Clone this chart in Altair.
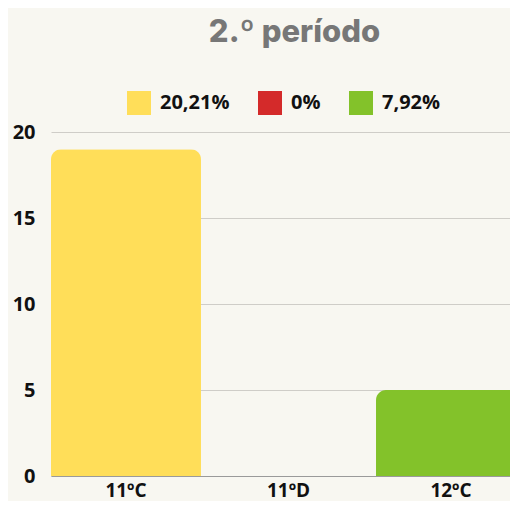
import altair as alt
import pandas as pd

categories = ["11ºC", "11ºD", "12ºC"]
values = [19, 0, 5]
legend_labels = ["20,21%", "0%", "7,92%"]
colors = ["#FFDE59", "#D42A2A", "#83C22A"]

df = pd.DataFrame({"turma": categories, "valor": values, "legenda": legend_labels})

chart = alt.Chart(df).mark_bar(
    cornerRadiusTopLeft=10, cornerRadiusTopRight=10
).encode(
    x=alt.X("turma:N", sort=categories, title=None,
            scale=alt.Scale(paddingInner=0.077, paddingOuter=0, range=[0, 475]),
            axis=alt.Axis(labelAngle=0, labelFont="Open Sans", labelFontWeight="bold",
                          labelFontSize=19, labelColor="#111111", labelPadding=5,
                          ticks=False, domainColor="#9a9a9a", domainWidth=1.2, grid=False)),
    y=alt.Y("valor:Q", title=None,
            scale=alt.Scale(domain=[0, 20]),
            axis=alt.Axis(values=[0, 5, 10, 15, 20], labelFont="Open Sans", labelFontWeight="bold",
                          labelFontSize=20, labelColor="#111111", labelPadding=16,
                          ticks=False, domain=False, gridColor="#cfcdc8", gridWidth=1.2)),
    color=alt.Color("legenda:N", sort=legend_labels,
                    scale=alt.Scale(domain=legend_labels, range=colors),
                    legend=alt.Legend(title=None, orient="none", legendX=76, legendY=-41,
                                      direction="horizontal", symbolType="square",
                                      symbolSize=576, symbolStrokeWidth=0, symbolOpacity=1,
                                      labelFont="Open Sans", labelFontWeight="bold",
                                      labelFontSize=20, labelColor="#111111",
                                      labelOffset=9, columnPadding=28, padding=0)),
).properties(
    width=459, height=344,
    background="#F8F7F1",
    autosize=alt.AutoSizeParams(type="none"),
    padding={"left": 43, "top": 124, "right": 0, "bottom": 25},
    title=alt.TitleParams("2.º período", font="Inter", fontWeight=800, fontSize=31,
                          color="#777777", anchor="middle", frame="group",
                          baseline="alphabetic", offset=18, dx=14),
).configure_view(stroke=None)

chart.save("out.html", embed_options={"renderer": "svg", "actions": False})
